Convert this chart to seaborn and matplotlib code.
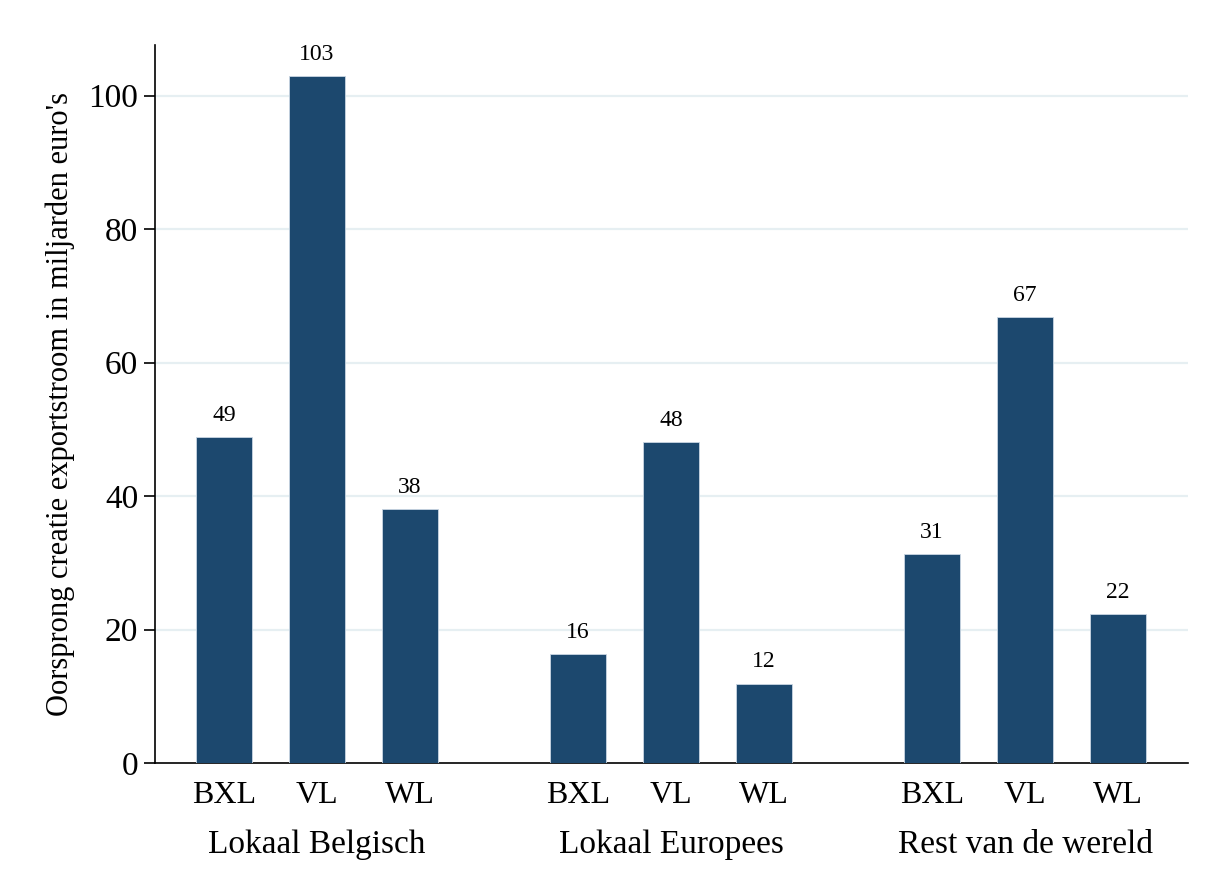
import matplotlib

matplotlib.use("Agg")
import matplotlib.pyplot as plt
import pandas as pd
import seaborn as sns

GROUPS = ["Lokaal Belgisch", "Lokaal Europees", "Rest van de wereld"]
REGIONS = ["BXL", "VL", "WL"]
VALUES = [
    [48.8, 102.9, 38.1],
    [16.3, 48.1, 11.9],
    [31.3, 66.8, 22.3],
]
Y_LABEL = "Oorsprong creatie exportstroom in miljarden euro's"
BAR_COLOR = "#1c486e"
GROUP_STRIDE = 3.806

rows = []
for g, group in enumerate(GROUPS):
    for r, region in enumerate(REGIONS):
        rows.append(
            {
                "group": group,
                "region": region,
                "pos": g * GROUP_STRIDE + r,
                "value": VALUES[g][r],
            }
        )
df = pd.DataFrame(rows)

sns.set_theme(style="white")
plt.rcParams["font.family"] = ["Liberation Serif", "DejaVu Serif"]
plt.rcParams["text.color"] = "black"
plt.rcParams["axes.labelcolor"] = "black"
plt.rcParams["xtick.color"] = "black"
plt.rcParams["ytick.color"] = "black"

fig = plt.figure(figsize=(12.15, 8.91), dpi=100)
ax = fig.add_axes([0.1276, 0.1437, 0.978 - 0.1276, 0.9495 - 0.1437])

sns.barplot(
    data=df,
    x="pos",
    y="value",
    native_scale=True,
    width=0.6,
    color=BAR_COLOR,
    saturation=1,
    edgecolor="#c9d6e3",
    linewidth=0.6,
    errorbar=None,
    ax=ax,
    zorder=3,
)

for _, row in df.iterrows():
    ax.annotate(
        f"{row['value']:.0f}",
        (row["pos"], row["value"]),
        xytext=(0, 8),
        textcoords="offset points",
        ha="center",
        va="bottom",
        fontsize=17,
        color="black",
    )

ax.set_xlim(df["pos"].min() - 0.742, df["pos"].max() + 0.753)
ax.set_ylim(0, 107.6)
ax.set_yticks([0, 20, 40, 60, 80, 100])
ax.set_xticks(df["pos"])
ax.set_xticklabels(df["region"])
ax.tick_params(axis="x", length=0, pad=13, labelsize=23)
ax.tick_params(axis="y", length=8, width=1.2, color="black", direction="out", labelsize=24, pad=4, left=True)

for y in [20, 40, 60, 80, 100]:
    ax.axhline(y, color="#e6eff2", linewidth=1.6, zorder=1)

for g, group in enumerate(GROUPS):
    ax.text(
        g * GROUP_STRIDE + 1,
        -0.114,
        group,
        transform=ax.get_xaxis_transform(),
        ha="center",
        va="center",
        fontsize=24,
        color="black",
    )

ax.set_xlabel("")
ax.set_ylabel(Y_LABEL, fontsize=22, labelpad=10, color="black")
sns.despine(ax=ax)
for side in ["left", "bottom"]:
    ax.spines[side].set_color("black")
    ax.spines[side].set_linewidth(1.2)

fig.savefig("out.png", dpi=100)
